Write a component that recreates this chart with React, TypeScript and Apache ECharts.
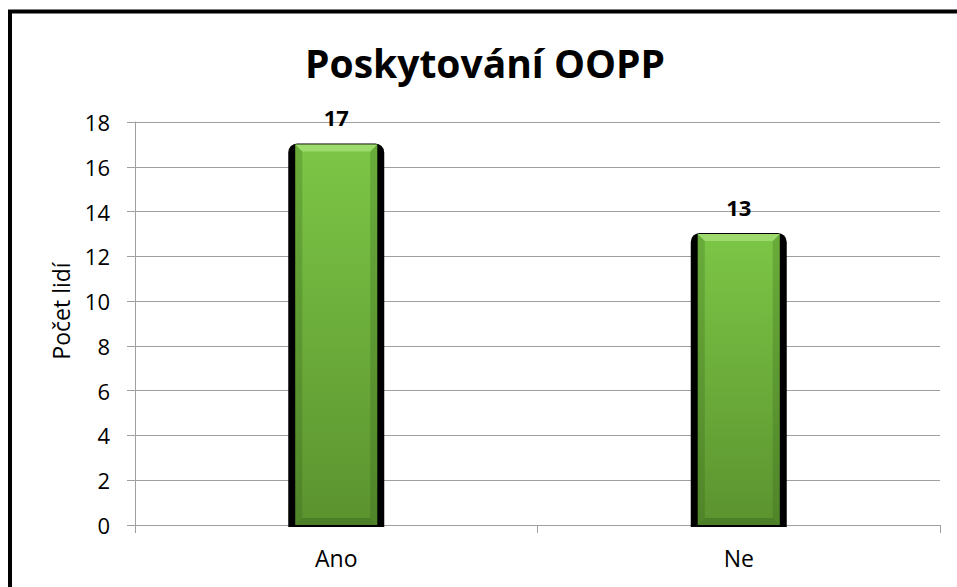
import React, { useEffect, useRef } from "react";
import * as echarts from "echarts";

const categories = ["Ano", "Ne"];
const values = [17, 13];
const yTicks = { min: 0, max: 18, interval: 2 };
const titleText = "Poskytování OOPP";
const yAxisName = "Počet lidí";

export default function App() {
  const ref = useRef<HTMLDivElement>(null);
  useEffect(() => {
    if (!ref.current) return;
    const chart = echarts.init(ref.current, null, { renderer: "svg" });
    const font = "'Open Sans', sans-serif";
    chart.setOption({
      animation: false,
      backgroundColor: "#ffffff",
      graphic: [
        {
          type: "text",
          x: 485,
          y: 62,
          style: {
            text: titleText,
            align: "center",
            verticalAlign: "middle",
            fontFamily: font,
            fontSize: 39,
            fontWeight: "bold",
            fill: "#000",
          },
        },
        {
          type: "text",
          x: 61,
          y: 311,
          rotation: Math.PI / 2,
          style: {
            text: yAxisName,
            align: "center",
            verticalAlign: "middle",
            fontFamily: font,
            fontSize: 23,
            fill: "#000",
          },
        },
        {
          type: "rect",
          shape: { x: 10, y: 11.5, width: 1200, height: 1200 },
          style: { fill: "none", stroke: "#000", lineWidth: 4 },
          z: 100,
        },
      ],
      grid: { left: 135, top: 122, right: 17, bottom: 62 },
      xAxis: {
        type: "category",
        data: categories,
        boundaryGap: true,
        axisLine: { lineStyle: { color: "#9f9f9f", width: 1 } },
        axisTick: { show: true, length: 8, lineStyle: { color: "#9f9f9f" } },
        axisLabel: { fontFamily: font, fontSize: 23, color: "#000", margin: 21 },
      },
      yAxis: {
        type: "value",
        min: yTicks.min,
        max: yTicks.max,
        interval: yTicks.interval,
        axisLine: { show: true, lineStyle: { color: "#9f9f9f", width: 1 } },
        axisTick: { show: true, length: 8, lineStyle: { color: "#9f9f9f" } },
        axisLabel: { fontFamily: font, fontSize: 22, color: "#000", margin: 25 },
        splitLine: { show: true, lineStyle: { color: "#9f9f9f", width: 1 } },
      },
      series: [
        {
          type: "custom",
          data: values.map((v, i) => [i, v]),
          renderItem: (params: any, api: any) => {
            const idx = api.value(0);
            const val = api.value(1);
            const top = api.coord([idx, val]);
            const base = api.coord([idx, 0]);
            const cx = top[0];
            const h = base[1] - top[1];
            const gw = 82;
            const bw = 96;
            return {
              type: "group",
              children: [
                {
                  type: "rect",
                  shape: { x: cx - bw / 2, y: top[1] - 1, width: bw, height: h + 3, r: [9, 9, 0, 0] },
                  style: { fill: "#000" },
                },
                {
                  type: "rect",
                  shape: { x: cx - gw / 2, y: top[1], width: gw, height: h },
                  style: {
                    fill: new echarts.graphic.LinearGradient(0, 0, 0, 1, [
                      { offset: 0, color: "#7cc646" },
                      { offset: 1, color: "#5b932f" },
                    ]),
                  },
                },
                {
                  type: "polygon",
                  shape: {
                    points: [
                      [cx - gw / 2, top[1]],
                      [cx - gw / 2 + 7, top[1] + 7],
                      [cx - gw / 2 + 7, base[1] - 7],
                      [cx - gw / 2, base[1]],
                    ],
                  },
                  style: { fill: "rgba(40,80,20,0.22)" },
                },
                {
                  type: "polygon",
                  shape: {
                    points: [
                      [cx + gw / 2, top[1]],
                      [cx + gw / 2 - 7, top[1] + 7],
                      [cx + gw / 2 - 7, base[1] - 7],
                      [cx + gw / 2, base[1]],
                    ],
                  },
                  style: { fill: "rgba(40,80,20,0.22)" },
                },
                {
                  type: "polygon",
                  shape: {
                    points: [
                      [cx - gw / 2, top[1]],
                      [cx + gw / 2, top[1]],
                      [cx + gw / 2 - 7, top[1] + 7],
                      [cx - gw / 2 + 7, top[1] + 7],
                    ],
                  },
                  style: { fill: "rgba(200,245,160,0.45)" },
                },
                {
                  type: "polygon",
                  shape: {
                    points: [
                      [cx - gw / 2, base[1]],
                      [cx + gw / 2, base[1]],
                      [cx + gw / 2 - 7, base[1] - 7],
                      [cx - gw / 2 + 7, base[1] - 7],
                    ],
                  },
                  style: { fill: "rgba(40,80,20,0.3)" },
                },
                {
                  type: "text",
                  style: {
                    text: String(val),
                    x: cx,
                    y: top[1] - 27,
                    align: "center",
                    verticalAlign: "middle",
                    fontFamily: font,
                    fontSize: 22,
                    fontWeight: "bold",
                    fill: "#000",
                  },
                },
              ],
            };
          },
        },
      ],
    });
    return () => chart.dispose();
  }, []);
  return (
    <div
      ref={ref}
      style={{ position: "fixed", left: 0, top: 0, width: 957, height: 587 }}
    />
  );
}
